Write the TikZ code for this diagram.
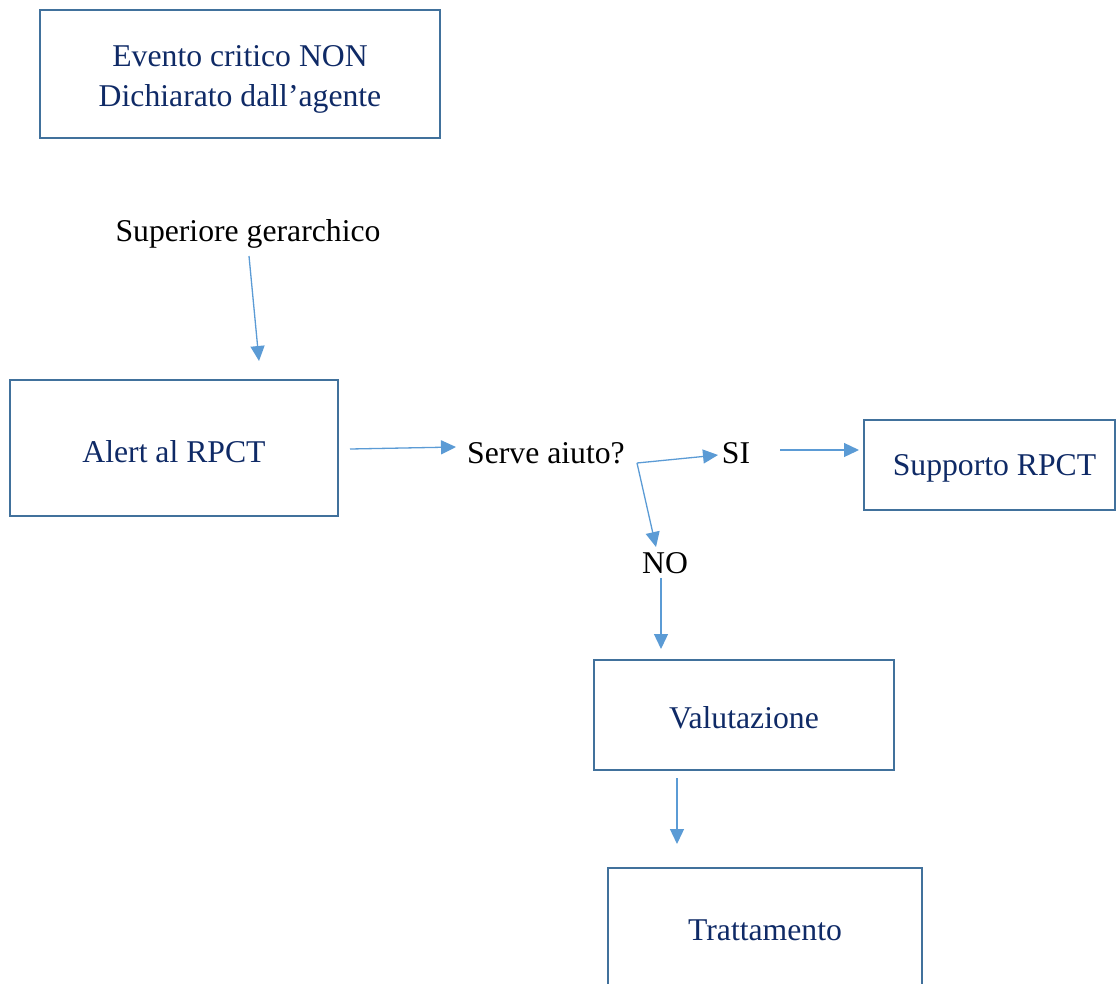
\documentclass[tikz,border=0pt]{standalone}
\usepackage{fontspec}
\setmainfont{Liberation Serif}
\usetikzlibrary{arrows.meta}
\definecolor{boxline}{HTML}{41719C}
\definecolor{boxtext}{HTML}{0F2A66}
\definecolor{arrowc}{HTML}{5B9BD5}
\tikzset{
  box/.style={draw=boxline, line width=2.8pt, text=boxtext, align=center, inner sep=0pt, font=\fontsize{31.7}{40}\selectfont},
  lbl/.style={text=black, inner sep=0pt, font=\fontsize{31.7}{36}\selectfont},
  conn/.style={draw=arrowc, line width=1.3pt, -{Triangle[length=15pt,width=14pt]}},
}
\begin{document}
\begin{tikzpicture}[x=1pt,y=-1pt]
\useasboundingbox (0,0) rectangle (1116,983);
\clip (0,0) rectangle (1116,983);
\node[box, minimum width=400pt, minimum height=128pt] (ev) at (240,74) {\rule{0pt}{31pt}Evento critico NON\\Dichiarato dall’agente};
\node[box, minimum width=328pt, minimum height=136pt, text height=28pt, text depth=0pt] (alert) at (174,448) {Alert al RPCT};
\node[box, minimum width=251pt, minimum height=90pt, text height=27pt, text depth=7pt] (sup) at (989.5,465) {\hspace*{10pt}Supporto RPCT};
\node[box, minimum width=300pt, minimum height=110pt, text height=26pt, text depth=0pt] (val) at (744,715) {Valutazione};
\node[box, minimum width=314pt, minimum height=124pt] (trat) at (765,930) {Trattamento};
\node[lbl] (sg) at (248,234) {Superiore gerarchico};
\node[lbl] (serve) at (546,453) {Serve aiuto?};
\node[lbl] (si) at (736,453) {SI};
\node[lbl] (no) at (665,563) {NO};
% connector endpoints
\coordinate (a1) at (249,256); \coordinate (a2) at (259,361);
\coordinate (b1) at (350,449); \coordinate (b2) at (456,447);
\coordinate (c0) at (637,463); \coordinate (c2) at (718,455);
\coordinate (d2) at (656,547);
\coordinate (e1) at (780,450); \coordinate (e2) at (859,450);
\coordinate (f1) at (661,578); \coordinate (f2) at (661,649);
\coordinate (g1) at (677,778); \coordinate (g2) at (677,844);
\draw[conn] (a1) -- (a2);
\draw[conn] (b1) -- (b2);
\draw[conn] (c0) -- (c2);
\draw[conn] (c0) -- (d2);
\draw[conn] (e1) -- (e2);
\draw[conn] (f1) -- (f2);
\draw[conn] (g1) -- (g2);
\end{tikzpicture}
\end{document}
